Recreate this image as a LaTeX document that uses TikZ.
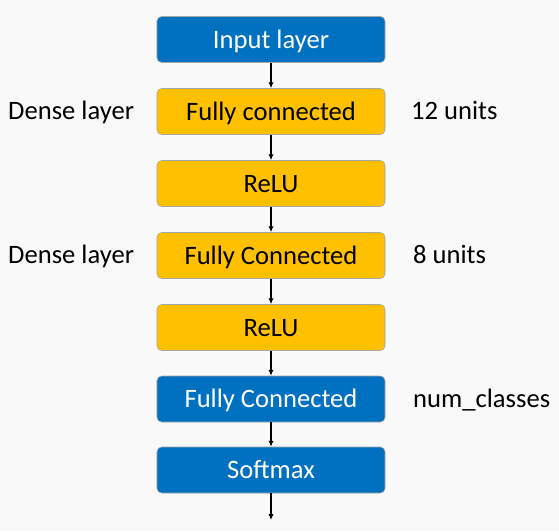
\documentclass[tikz,border=0pt]{standalone}
\usepackage{fontspec}
\setmainfont{Carlito}
\usepackage{xcolor}
\usetikzlibrary{arrows.meta}
\definecolor{layerblue}{HTML}{0070C0}
\definecolor{layergold}{HTML}{FFC000}
\definecolor{bggray}{HTML}{F9F9F9}
\begin{document}
\begin{tikzpicture}[x=0.03cm, y=-0.03cm,
    layer/.style={draw=gray!70, line width=0.5pt, rectangle, rounded corners=4pt,
      minimum width=6.84cm, minimum height=1.38cm, text height=19.3pt, text depth=4.5pt,
      font=\fontsize{22.7}{25}\selectfont},
    bluelayer/.style={layer, fill=layerblue, text=white},
    goldlayer/.style={layer, fill=layergold, text=black},
    note/.style={font=\fontsize{22.7}{25}\selectfont, anchor=base west, inner sep=0pt},
    flow/.style={-{Latex[length=5pt,width=4.5pt]}, line width=1pt}]
            \fill[bggray] (0,0) rectangle (559,531);
            \useasboundingbox (0,0) rectangle (559,531);
            \node [bluelayer] (input) at (271,39.5) {Input layer};
            \node [goldlayer] (fc1) at (271,111.5) {Fully connected};
            \node [goldlayer] (relu1) at (271,183.5) {ReLU};
            \node [goldlayer] (fc2) at (271,255.5) {Fully Connected};
            \node [goldlayer] (relu2) at (271,327.5) {ReLU};
            \node [bluelayer] (fc3) at (271,399) {Fully Connected};
            \node [bluelayer] (softmax) at (271,470) {Softmax};
            \coordinate (out) at (271,520);
            
            \node [note] (dense1) at (8,119.5) {Dense layer};
            \node [note] (dense2) at (8,263) {Dense layer};
            \node [note] (units1) at (411,119.5) {12 units};
            \node [note] (units2) at (413,263) {8 units};
            \node [note] (classes) at (413,407.5) {num\_classes};
            
            \draw[flow] (input) -- (fc1);
            \draw[flow] (fc1) -- (relu1);
            \draw[flow] (relu1) -- (fc2);
            \draw[flow] (fc2) -- (relu2);
            \draw[flow] (relu2) -- (fc3);
            \draw[flow] (fc3) -- (softmax);
            \draw[flow] (softmax) -- (out);
        \end{tikzpicture}
\end{document}
